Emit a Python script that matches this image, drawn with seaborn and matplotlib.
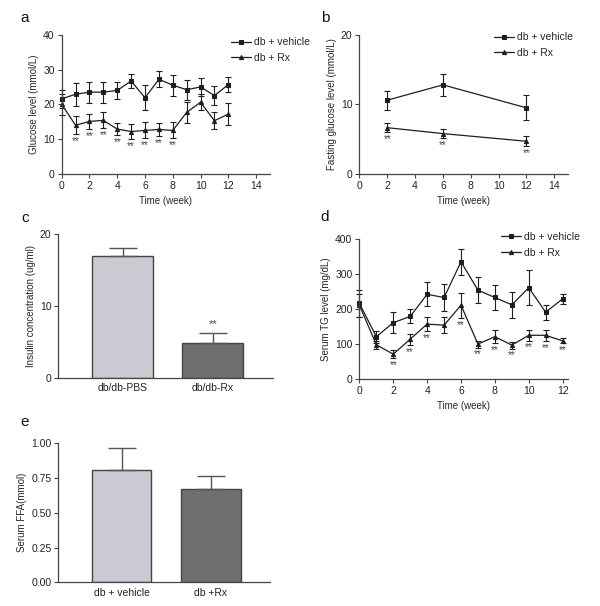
import numpy as np
import pandas as pd
import matplotlib
matplotlib.use("Agg")
import matplotlib.pyplot as plt
import seaborn as sns

# ---- data ----
weeks_a = list(range(0, 13))
glu_vehicle = [21.6, 22.9, 23.5, 23.5, 24.0, 26.7, 21.9, 27.2, 25.5, 24.2, 25.0, 22.5, 25.7]
glu_vehicle_sd = [2.6, 3.3, 3.0, 3.0, 2.5, 2.0, 3.6, 2.3, 3.0, 2.9, 2.7, 2.8, 2.1]
glu_rx = [20.0, 14.0, 15.1, 15.4, 12.9, 12.2, 12.5, 12.8, 12.5, 17.7, 20.6, 15.3, 17.2]
glu_rx_sd = [3.0, 2.6, 2.2, 2.3, 1.8, 2.1, 2.3, 1.8, 2.3, 3.0, 2.3, 2.5, 3.1]
glu_sig = [1, 2, 3, 4, 5, 6, 7, 8]

weeks_b = [2, 6, 12]
fast_vehicle = [10.6, 12.8, 9.5]
fast_vehicle_sd = [1.35, 1.6, 1.8]
fast_rx = [6.65, 5.8, 4.7]
fast_rx_sd = [0.65, 0.6, 0.7]
fast_sig = [2, 6, 12]

ins_groups = ["db/db-PBS", "db/db-Rx"]
ins_vals = [17.0, 4.9]
ins_sd = [1.1, 1.3]

weeks_d = list(range(0, 13))
tg_vehicle = [215, 120, 160, 178, 241, 232, 334, 253, 232, 211, 260, 190, 228]
tg_vehicle_sd = [38, 17, 30, 20, 34, 39, 37, 37, 35, 37, 50, 21, 15]
tg_rx = [210, 97, 70, 113, 156, 153, 210, 99, 120, 96, 124, 124, 108]
tg_rx_sd = [33, 12, 12, 16, 21, 23, 36, 10, 19, 10, 15, 16, 7]
tg_sig = [2, 3, 4, 6, 7, 8, 9, 10, 11, 12]

ffa_groups = ["db + vehicle", "db +Rx"]
ffa_vals = [0.81, 0.669]
ffa_sd = [0.156, 0.098]

sns.set_style("ticks")
plt.rcParams["font.family"] = ["Liberation Sans", "DejaVu Sans"]
plt.rcParams["axes.edgecolor"] = "#444444"
plt.rcParams["xtick.color"] = "#444444"
plt.rcParams["ytick.color"] = "#444444"
plt.rcParams["xtick.labelcolor"] = "#222222"
plt.rcParams["ytick.labelcolor"] = "#222222"
plt.rcParams["axes.linewidth"] = 0.9

fig = plt.figure(figsize=(6, 6.06), dpi=100)
ax_a = fig.add_axes([0.1028, 0.7129, 0.3472, 0.2298])
ax_b = fig.add_axes([0.599, 0.7129, 0.348, 0.2298])
ax_c = fig.add_axes([0.0972, 0.3767, 0.3583, 0.2367])
ax_d = fig.add_axes([0.599, 0.3751, 0.348, 0.231])
ax_e = fig.add_axes([0.0972, 0.0391, 0.3528, 0.2294])

LINE = "#1e1e1e"
TICK_FS = 7.5
LAB_FS = 7


def line_panel(ax, x, v, vsd, r, rsd, sig):
    sns.lineplot(x=x, y=v, ax=ax, color=LINE, lw=0.9, marker="s", markersize=2.4,
                 markeredgecolor=LINE, label="db + vehicle", clip_on=False)
    sns.lineplot(x=x, y=r, ax=ax, color=LINE, lw=0.9, marker="^", markersize=3,
                 markeredgecolor=LINE, label="db + Rx", clip_on=False)
    for m, s in [(v, vsd), (r, rsd)]:
        eb = ax.errorbar(x, m, yerr=s, fmt="none", ecolor=LINE, elinewidth=0.8,
                         capsize=2, capthick=0.8)
        for art in eb.get_children():
            art.set_clip_on(False)
    for w in sig:
        i = list(x).index(w)
        ax.annotate("**", (w, r[i] - rsd[i]), xytext=(0, -5), textcoords="offset points",
                    ha="center", va="center", fontsize=7, color="#444444")
    ax.tick_params(labelsize=TICK_FS, length=3, width=0.8, pad=2)
    sns.despine(ax=ax)


def bar_panel(ax, groups, vals, sd, width):
    df = pd.DataFrame({"g": groups, "v": vals})
    sns.barplot(data=df, x="g", y="v", hue="g", palette=["#c9c9d3", "#6f6f6f"], legend=False,
                width=width, edgecolor="#444444", linewidth=1.0, ax=ax)
    ax.errorbar(range(len(vals)), vals, yerr=[[0] * len(vals), sd], fmt="none",
                ecolor="#555555", elinewidth=1.0, capsize=10, capthick=1.0)
    ax.set_xlabel("")
    ax.tick_params(axis="y", labelsize=TICK_FS, length=3, width=0.8, pad=2)
    ax.tick_params(axis="x", labelsize=TICK_FS, length=0, pad=4)
    sns.despine(ax=ax)


# a
line_panel(ax_a, weeks_a, glu_vehicle, glu_vehicle_sd, glu_rx, glu_rx_sd, glu_sig)
ax_a.set_xlim(0, 15)
ax_a.set_ylim(0, 40)
ax_a.set_xticks(range(0, 15, 2))
ax_a.set_yticks(range(0, 41, 10))
ax_a.set_xlabel("Time (week)", fontsize=LAB_FS, labelpad=4)
ax_a.set_ylabel("Glucose level (mmol/L)", fontsize=LAB_FS, labelpad=3)
ax_a.legend(loc="upper left", bbox_to_anchor=(0.79, 1.02), frameon=False, fontsize=7.5,
            handlelength=1.9, handletextpad=0.3, borderpad=0, labelspacing=0.55)

# b
line_panel(ax_b, weeks_b, fast_vehicle, fast_vehicle_sd, fast_rx, fast_rx_sd, fast_sig)
ax_b.set_xlim(0, 15)
ax_b.set_ylim(0, 20)
ax_b.set_xticks(range(0, 15, 2))
ax_b.set_yticks([0, 10, 20])
ax_b.set_xlabel("Time (week)", fontsize=LAB_FS, labelpad=4)
ax_b.set_ylabel("Fasting glucose level (mmol/L)", fontsize=LAB_FS, labelpad=3)
ax_b.legend(loc="upper left", bbox_to_anchor=(0.62, 1.055), frameon=False, fontsize=7.5,
            handlelength=1.9, handletextpad=0.3, borderpad=0, labelspacing=0.55)

# c
bar_panel(ax_c, ins_groups, ins_vals, ins_sd, 0.68)
ax_c.set_xlim(-0.717, 1.672)
ax_c.set_ylim(0, 20)
ax_c.set_yticks([0, 10, 20])
ax_c.set_ylabel("Insulin concentration (ug/ml)", fontsize=LAB_FS, labelpad=3)
ax_c.annotate("**", (1, ins_vals[1] + ins_sd[1]), xytext=(0, 3), textcoords="offset points",
              ha="center", va="bottom", fontsize=8, color="#444444")

# d
line_panel(ax_d, weeks_d, tg_vehicle, tg_vehicle_sd, tg_rx, tg_rx_sd, tg_sig)
ax_d.set_xlim(0, 12.33)
ax_d.set_ylim(0, 400)
ax_d.set_xticks(range(0, 13, 2))
ax_d.set_yticks(range(0, 401, 100))
ax_d.set_xlabel("Time (week)", fontsize=LAB_FS, labelpad=4)
ax_d.set_ylabel("Serum TG level (mg/dL)", fontsize=LAB_FS, labelpad=3)
ax_d.legend(loc="upper left", bbox_to_anchor=(0.655, 1.086), frameon=False, fontsize=7.5,
            handlelength=1.9, handletextpad=0.3, borderpad=0, labelspacing=0.55)

# e
bar_panel(ax_e, ffa_groups, ffa_vals, ffa_sd, 0.67)
ax_e.set_xlim(-0.706, 1.659)
ax_e.set_ylim(0, 1.0)
ax_e.set_yticks([0, 0.25, 0.5, 0.75, 1.0])
ax_e.yaxis.set_major_formatter(matplotlib.ticker.FormatStrFormatter("%.2f"))
ax_e.set_ylabel("Serum FFA(mmol)", fontsize=LAB_FS, labelpad=3)

# panel letters
for lab, x, y in [("a", 25, 18), ("b", 325, 18), ("c", 25, 218), ("d", 325, 217), ("e", 25, 422)]:
    fig.text(x / 600, 1 - y / 606, lab, fontsize=11, ha="center", va="center", color="#111111")

fig.savefig("out.png", dpi=100)
